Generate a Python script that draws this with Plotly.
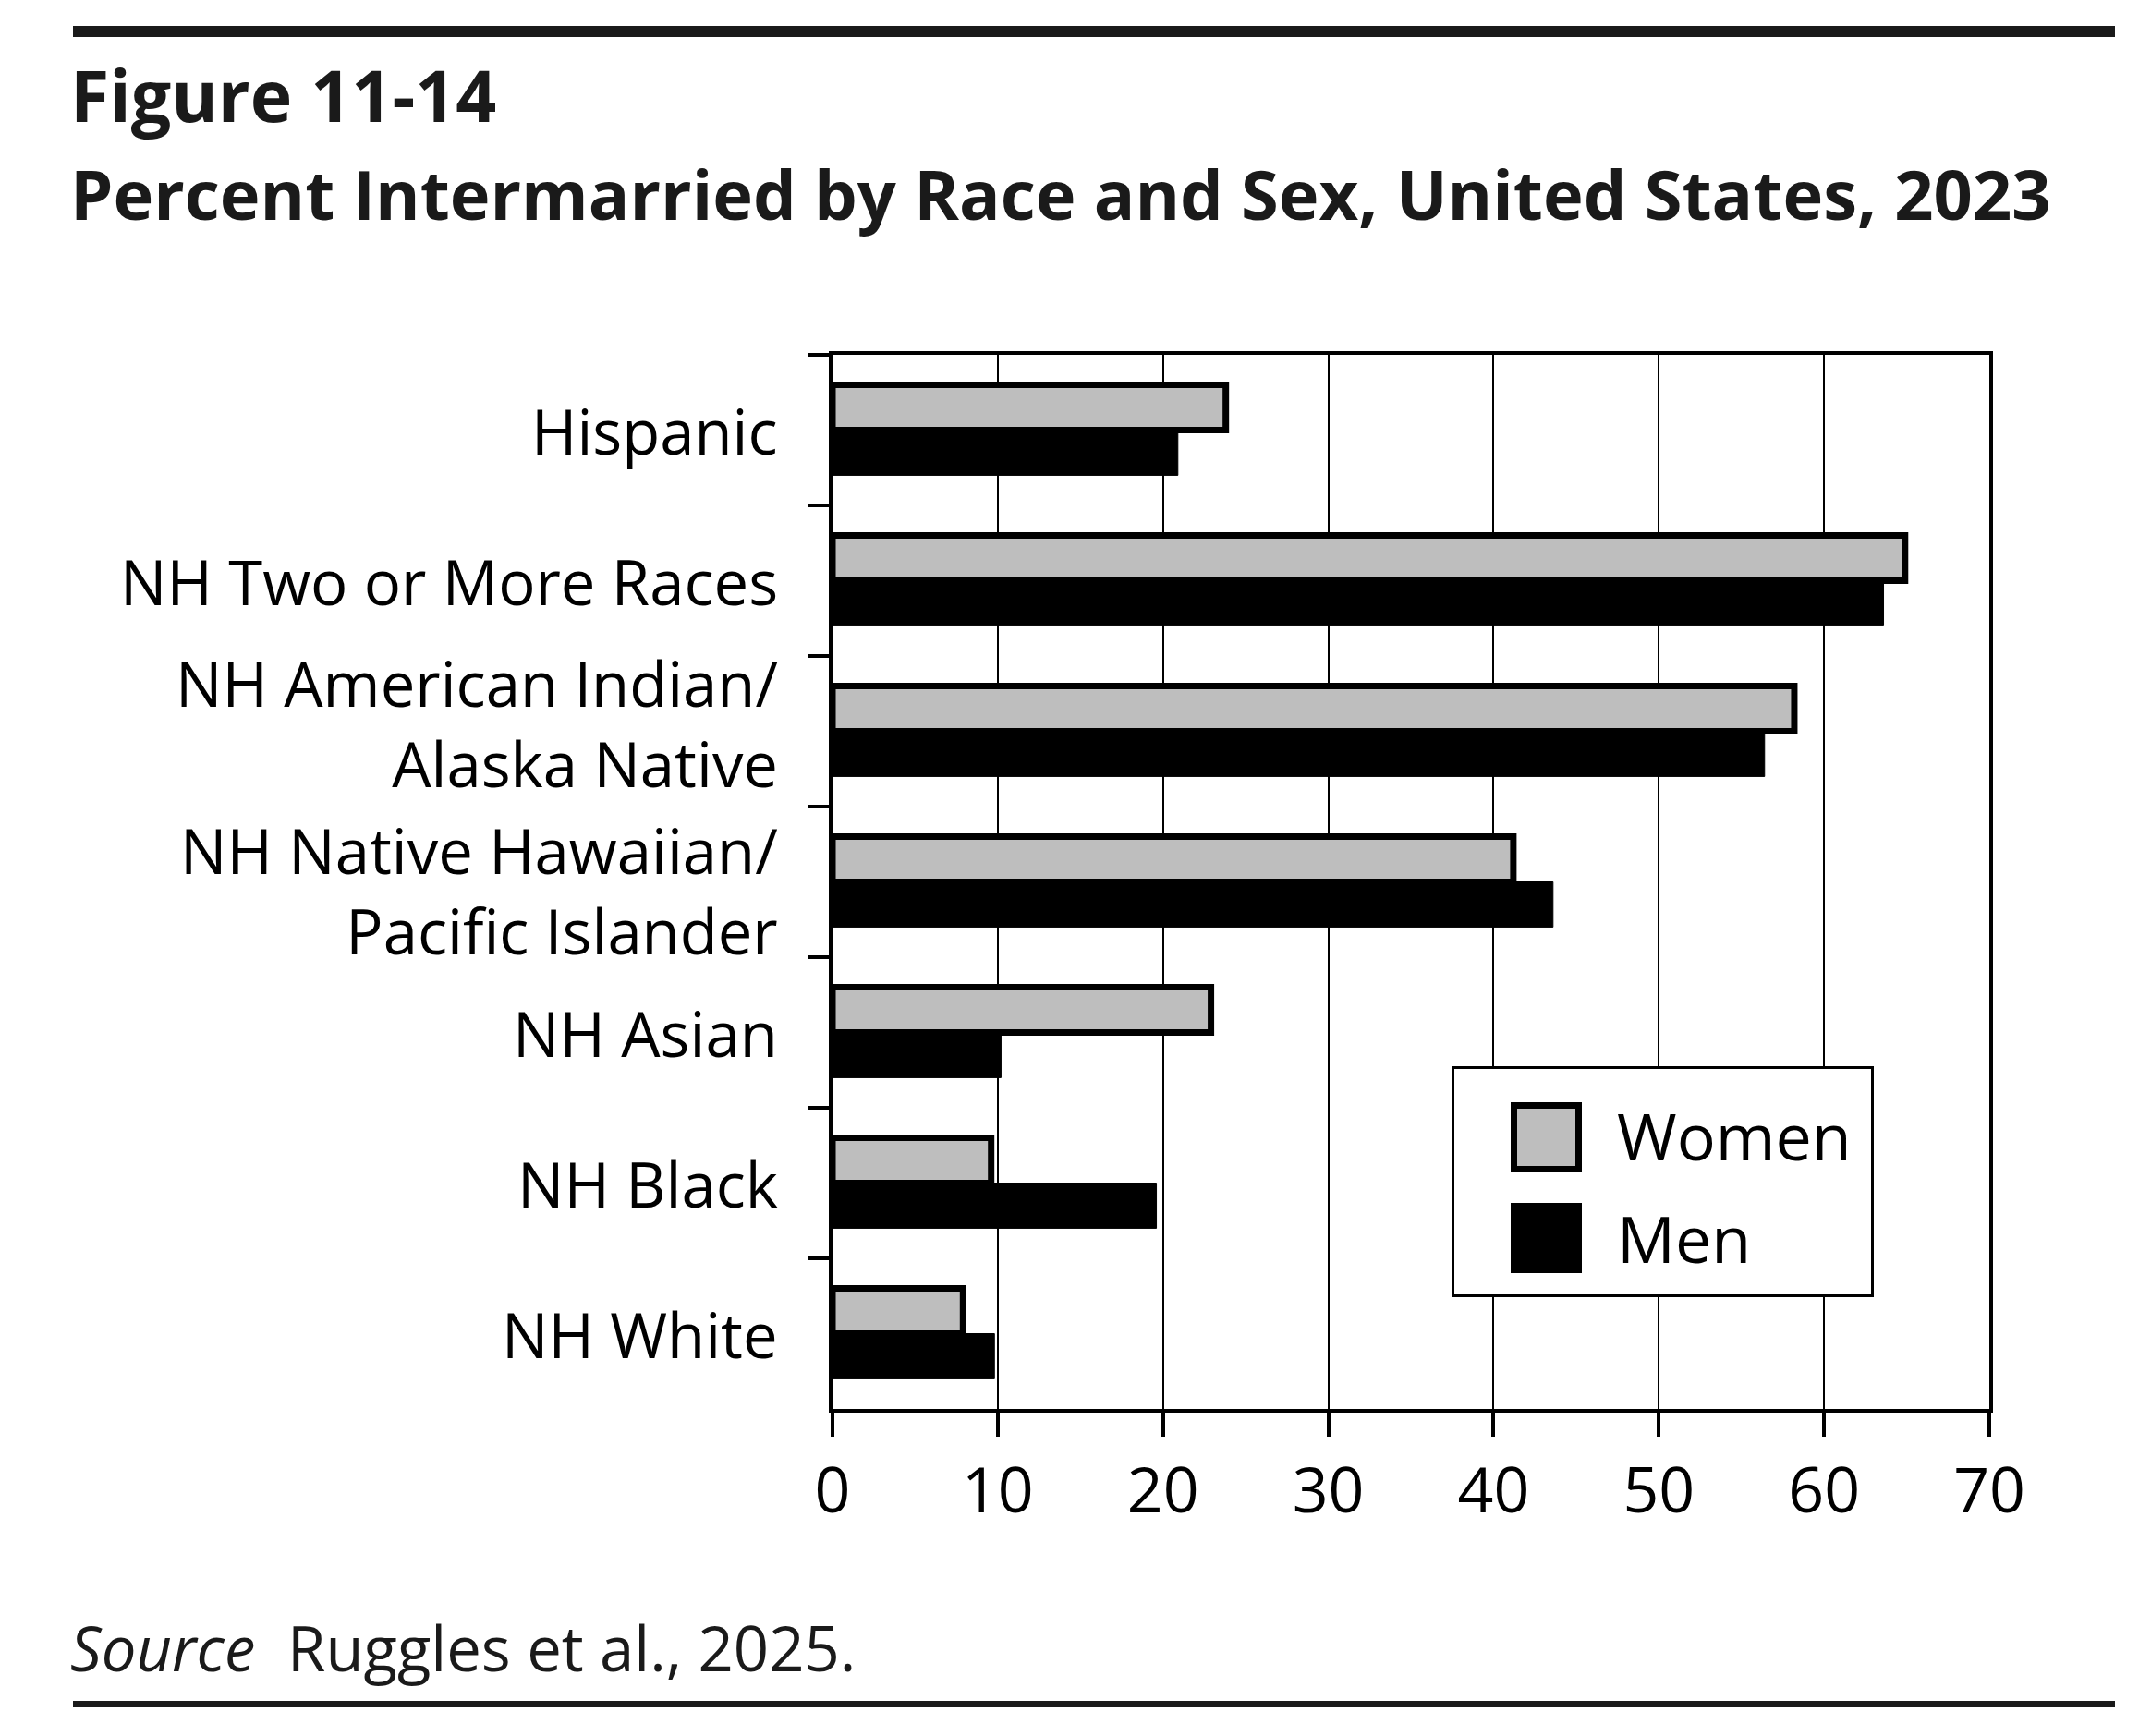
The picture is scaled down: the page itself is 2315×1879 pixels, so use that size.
import plotly.graph_objects as go

categories = ["Hispanic", "NH Two or More Races", "NH American Indian/<br>Alaska Native",
              "NH Native Hawaiian/<br>Pacific Islander", "NH Asian", "NH Black", "NH White"]
women = [23.8, 64.9, 58.2, 41.2, 22.9, 9.6, 7.9]
men = [20.9, 63.6, 56.4, 43.6, 10.2, 19.6, 9.8]
x_ticks = [0, 10, 20, 30, 40, 50, 60, 70]

W, H = 2315, 1879
L, R, T, B = 893, 2145, 376, 1517
FONT = "Open Sans"
LABEL_SIZE = 67

def px(x):
    return (x - L) / (R - L)

def py(y):
    return (B - y) / (B - T)

fig = go.Figure()
fig.add_trace(go.Bar(y=categories, x=women, orientation="h", name="Women",
                     marker=dict(color="#bebebe", line=dict(color="black", width=7))))
fig.add_trace(go.Bar(y=categories, x=men, orientation="h", name="Men",
                     marker=dict(color="black", line=dict(color="black", width=1))))

shapes = [
    # top and bottom rules
    dict(type="rect", xref="paper", yref="paper", x0=px(71), x1=px(2281), y0=py(20), y1=py(32),
         fillcolor="#1a1a1a", line=dict(width=0), layer="above"),
    dict(type="rect", xref="paper", yref="paper", x0=px(71), x1=px(2281), y0=py(1833), y1=py(1840),
         fillcolor="#1a1a1a", line=dict(width=0), layer="above"),
    # legend box
    dict(type="rect", xref="paper", yref="paper", x0=px(1564.5), x1=px(2018.5), y0=py(1147.5), y1=py(1394.5),
         fillcolor="white", line=dict(color="black", width=3), layer="above"),
    dict(type="rect", xref="paper", yref="paper", x0=px(1630.5), x1=px(1700.5), y0=py(1188.5), y1=py(1257.5),
         fillcolor="#bebebe", line=dict(color="black", width=7), layer="above"),
    dict(type="rect", xref="paper", yref="paper", x0=px(1627), x1=px(1704), y0=py(1294), y1=py(1370),
         fillcolor="black", line=dict(width=0), layer="above"),
]

annotations = [
    dict(text="<b>Figure 11-14</b>", xref="paper", yref="paper", x=px(66), y=py(94),
         xanchor="left", yanchor="middle", showarrow=False,
         font=dict(family=FONT, size=77, color="#1a1a1a")),
    dict(text="<b>Percent Intermarried by Race and Sex, United States, 2023</b>", xref="paper", yref="paper",
         x=px(66), y=py(201), xanchor="left", yanchor="middle", showarrow=False,
         font=dict(family=FONT, size=74, color="#1a1a1a")),
    dict(text="<i>Source</i>\u00a0 Ruggles et al., 2025.", xref="paper", yref="paper",
         x=px(66), y=py(1775), xanchor="left", yanchor="middle", showarrow=False,
         font=dict(family=FONT, size=67, color="#1a1a1a")),
    dict(text="Women", xref="paper", yref="paper", x=px(1740), y=py(1221),
         xanchor="left", yanchor="middle", showarrow=False,
         font=dict(family=FONT, size=70, color="black")),
    dict(text="Men", xref="paper", yref="paper", x=px(1740), y=py(1332),
         xanchor="left", yanchor="middle", showarrow=False,
         font=dict(family=FONT, size=70, color="black")),
]

# category labels placed on the category axis; the two-line labels are nudged apart slightly
label_shift = {categories[2]: 9, categories[3]: -9}
for cat in categories:
    annotations.append(dict(text=cat, xref="paper", yref="y", x=px(836), y=cat,
                            xanchor="right", yanchor="middle", align="right",
                            yshift=label_shift.get(cat, 0), showarrow=False,
                            font=dict(family=FONT, size=LABEL_SIZE, color="black")))

fig.update_layout(
    width=W, height=H,
    margin=dict(l=L, r=W - R, t=T, b=H - B, pad=0),
    paper_bgcolor="white", plot_bgcolor="white",
    barmode="group", bargap=0.4, bargroupgap=0,
    showlegend=False,
    font=dict(family=FONT, size=70, color="black"),
    shapes=shapes, annotations=annotations,
    xaxis=dict(range=[0, 70], tickvals=x_ticks, ticktext=[str(v) for v in x_ticks],
               showgrid=True, gridcolor="black", gridwidth=2, zeroline=False,
               showline=True, linecolor="black", linewidth=4, mirror=True,
               ticks="outside", ticklen=26, tickwidth=4, tickcolor="black",
               tickfont=dict(family=FONT, size=68, color="black")),
    yaxis=dict(autorange="reversed", type="category", tickson="boundaries",
               showgrid=False, zeroline=False, showticklabels=False,
               showline=True, linecolor="black", linewidth=4, mirror=True,
               ticks="outside", ticklen=23, tickwidth=4, tickcolor="black"),
)

fig.write_html("out.html")
